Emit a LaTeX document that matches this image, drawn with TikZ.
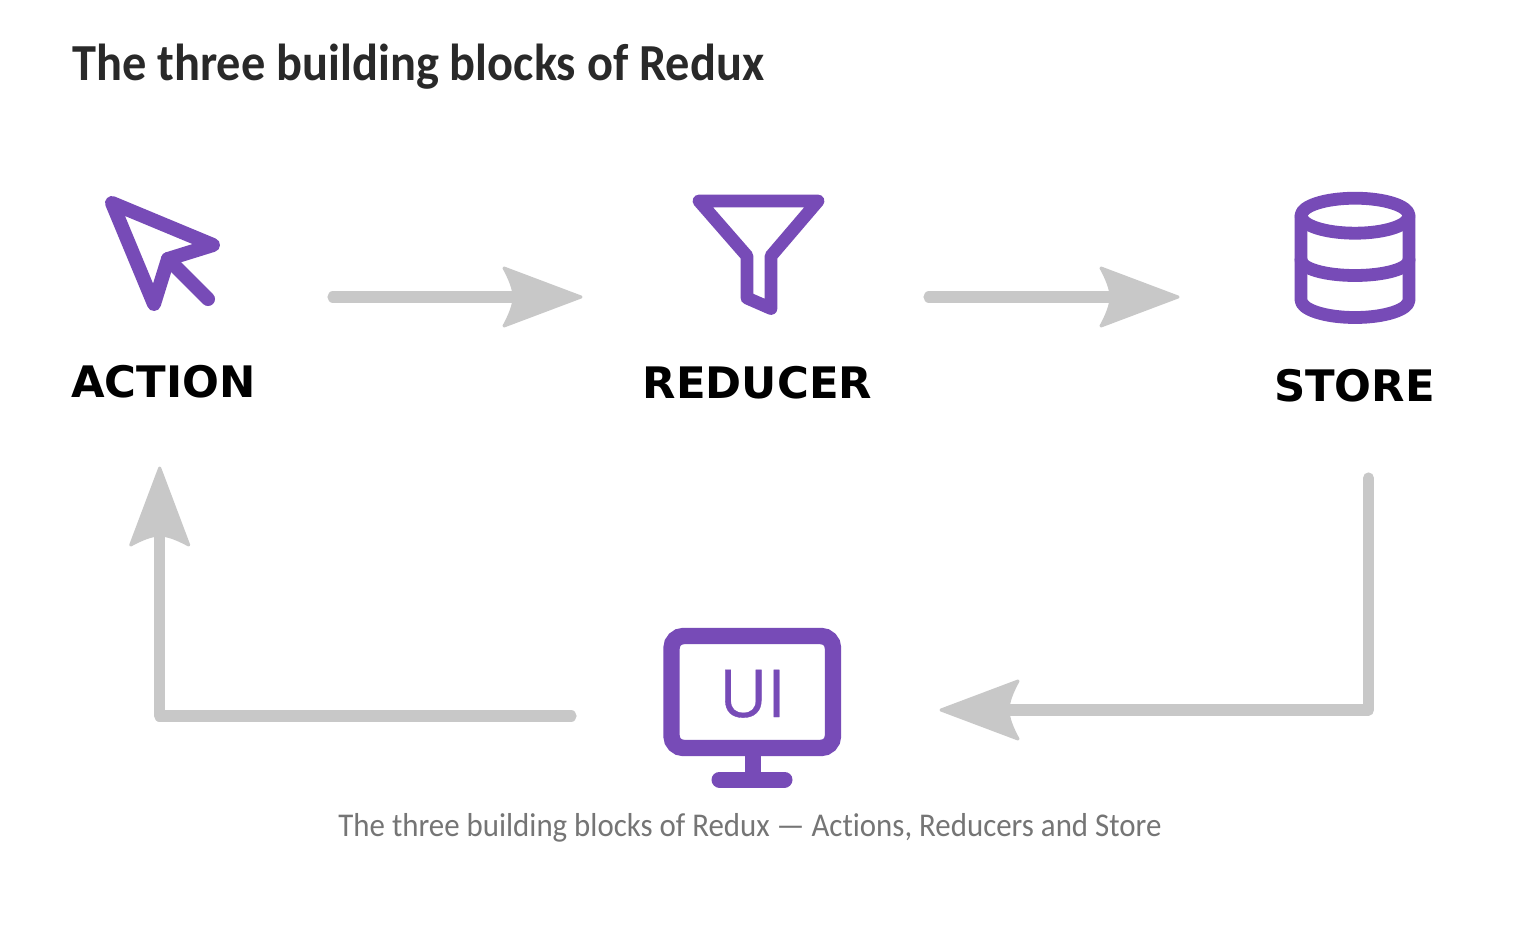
\documentclass[tikz,border=0pt]{standalone}
\usepackage{fontspec}
\setmainfont[FakeStretch=0.93,Ligatures=NoCommon]{Carlito}
\newfontfamily\labelfont{DejaVu Sans}
\newfontfamily\uifont[FakeBold=0.5]{Open Sans}
\definecolor{iconpurple}{HTML}{774BB7}
\definecolor{arrowgrey}{HTML}{C8C8C8}
\definecolor{titleink}{HTML}{292929}
\definecolor{capink}{HTML}{757575}
\tikzset{
  x=0.5pt,y=-0.5pt,
  icon/.style={draw=iconpurple,line width=6.4pt,line join=round,line cap=round},
  cursoricon/.style={icon,line width=7pt},
  flow/.style={draw=arrowgrey,line width=5.6pt,line cap=round,line join=round},
  head/.style={fill=arrowgrey,draw=arrowgrey,line width=1.5pt,line join=round},
  lab/.style={inner sep=0pt,font=\labelfont\bfseries\fontsize{21.7}{26}\selectfont,text=black},
}
\newcommand{\arrowhead}[3]{\begin{scope}[shift={(#1,#2)},rotate=#3]
  \path[head] (-2,0) -- (-79,-29) .. controls (-73,-18) and (-69,-8) .. (-69,0) .. controls (-69,8) and (-73,18) .. (-79,29) -- cycle;
\end{scope}}
\begin{document}
\begin{tikzpicture}
\useasboundingbox (0,0) rectangle (1530,942);
\fill[white] (0,0) rectangle (1530,942);
\node[anchor=base west,inner sep=0pt,text=titleink,font=\fontsize{26}{30}\selectfont\bfseries] (title) at (72,80) {The three building blocks of Redux};
% action
\draw[cursoricon] (112,203) -- (213,245) -- (168,259) -- (154,304) -- cycle;
\draw[cursoricon] (168,259) -- (208,299);
\node[lab,anchor=base] (action) at (163.5,397) {ACTION};
% reducer
\draw[icon] (699,201) -- (818,201) -- (771,256) -- (771,308.5) -- (747,298) -- (747,256) -- cycle;
\node[lab,anchor=base] (reducer) at (757.5,398) {REDUCER};
% store
\draw[icon] (1355,215.7) ellipse [x radius=54,y radius=17.5];
\draw[icon] (1301,215.7) -- (1301,300) arc[start angle=180,end angle=360,x radius=54,y radius=-17.5] -- (1409,215.7);
\draw[icon] (1301,260) arc[start angle=180,end angle=360,x radius=54,y radius=-15.5];
\node[lab,anchor=base] (store) at (1354.5,401) {STORE};
% ui
\draw[draw=iconpurple,line width=8.2pt,rounded corners=6pt] (671.5,636) rectangle (833,748);
\draw[draw=iconpurple,line width=8pt] (752.5,750) -- (752.5,779);
\draw[draw=iconpurple,line width=8pt,line cap=round] (719.5,779.5) -- (784.5,779.5);
\node[inner sep=0pt,anchor=base,text=iconpurple,font=\uifont\fontsize{33}{36}\selectfont] (ui) at (752.5,717) {UI};
% arrows
\coordinate (a1s) at (333,297); \coordinate (a1e) at (520,297);
\draw[flow] (a1s) -- (a1e);
\arrowhead{583}{297}{0}
\coordinate (a2s) at (929,297); \coordinate (a2e) at (1116,297);
\draw[flow] (a2s) -- (a2e);
\arrowhead{1180}{297}{0}
\coordinate (a3s) at (1368.5,478); \coordinate (a3c) at (1368.5,710); \coordinate (a3e) at (1005,710);
\draw[flow] (a3s) -- (a3c) -- (a3e);
\arrowhead{939}{710}{180}
\coordinate (a4s) at (571,716); \coordinate (a4c) at (159.7,716); \coordinate (a4e) at (159.7,532);
\draw[flow] (a4s) -- (a4c) -- (a4e);
\arrowhead{159.7}{466}{90}
\node[anchor=base west,inner sep=0pt,text=capink,font=\fontsize{16.6}{20}\selectfont] (caption) at (338,836) {The three building blocks of Redux — Actions, Reducers and Store};
\end{tikzpicture}
\end{document}
